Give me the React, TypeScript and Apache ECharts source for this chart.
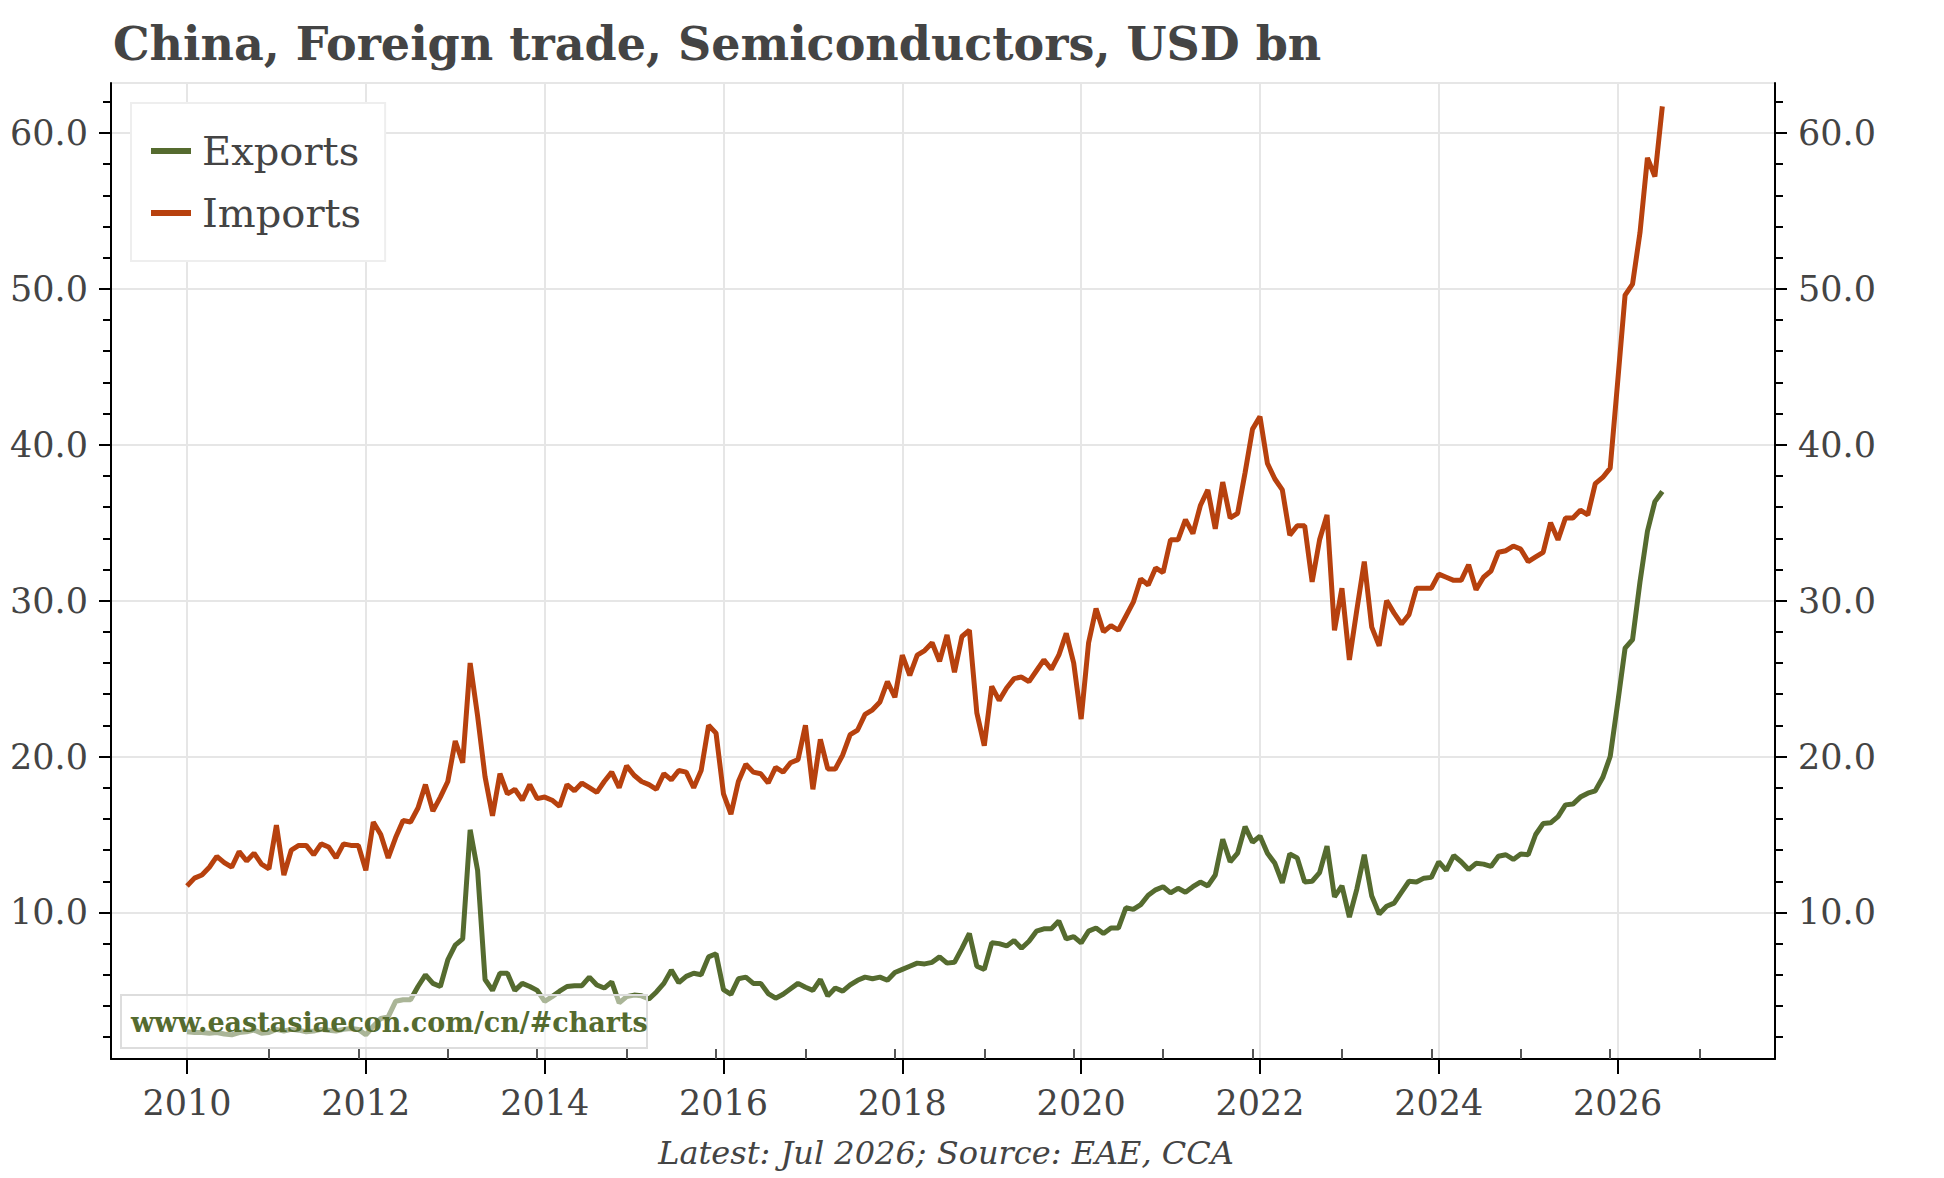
import { useEffect, useRef } from 'react'
import * as echarts from 'echarts'

const TITLE = 'China, Foreign trade, Semiconductors, USD bn'
const FOOTNOTE = 'Latest: Jul 2026; Source: EAE, CCA'
const WATERMARK = 'www.eastasiaecon.com/cn/#charts'

const FONT = "'DejaVu Serif', serif"
const TEXT_COLOR = '#444444'
const GRID_COLOR = '#e6e6e6'
const EXPORTS_COLOR = '#556b2f'
const IMPORTS_COLOR = '#b7410e'

// monthly, Jan 2010 .. Jul 2026
const START_YEAR = 2010

const EXPORTS = [
  2.35, 2.3, 2.3, 2.25, 2.3, 2.2, 2.15, 2.3, 2.35, 2.45, 2.25, 2.3,
  2.5, 2.4, 2.5, 2.45, 2.35, 2.4, 2.5, 2.45, 2.4, 2.5, 2.55, 2.5,
  2.15, 2.7, 3.2, 3.3, 4.3, 4.4, 4.4, 5.25, 6.0, 5.45, 5.25, 6.95,
  7.9, 8.3, 15.3, 12.7, 5.7, 5.0, 6.1, 6.1, 5.0, 5.45, 5.25, 5.0,
  4.3, 4.6, 4.95, 5.25, 5.3, 5.3, 5.85, 5.35, 5.15, 5.55, 4.2, 4.6,
  4.7, 4.65, 4.45, 4.9, 5.45, 6.3, 5.5, 5.9, 6.1, 6.0, 7.15, 7.35,
  5.05, 4.75, 5.75, 5.85, 5.45, 5.45, 4.8, 4.5, 4.75, 5.1, 5.45, 5.2,
  5.0, 5.7, 4.65, 5.15, 4.95, 5.35, 5.65, 5.85, 5.75, 5.85, 5.65, 6.15,
  6.35, 6.55, 6.75, 6.7, 6.8, 7.15, 6.75, 6.8, 7.7, 8.65, 6.55, 6.35,
  8.05, 8.0, 7.85, 8.2, 7.7, 8.15, 8.8, 8.95, 8.95, 9.45, 8.3, 8.45,
  8.05, 8.8, 9.0, 8.65, 9.0, 9.0, 10.3, 10.2, 10.5, 11.1, 11.45, 11.65,
  11.25, 11.55, 11.3, 11.65, 11.95, 11.7, 12.4, 14.7, 13.25, 13.8, 15.5, 14.5,
  14.9, 13.8, 13.15, 11.9, 13.75, 13.5, 11.95, 12.0, 12.55, 14.25, 11.0, 11.7,
  9.7, 11.5, 13.7, 11.05, 9.9, 10.4, 10.6, 11.3, 12.0, 11.95, 12.2, 12.25,
  13.25, 12.7, 13.65, 13.25, 12.75, 13.15, 13.1, 12.95, 13.6, 13.7, 13.4, 13.75,
  13.7, 15.0, 15.7, 15.75, 16.15, 16.9, 16.95, 17.4, 17.65, 17.8, 18.65, 20.0,
  23.4, 26.95, 27.5, 31.2, 34.45, 36.35, 37.0,
]

const IMPORTS = [
  11.7, 12.2, 12.4, 12.9, 13.6, 13.2, 12.9, 13.9, 13.3, 13.8, 13.1, 12.8,
  15.6, 12.4, 14.0, 14.3, 14.3, 13.7, 14.4, 14.2, 13.5, 14.4, 14.3, 14.3,
  12.7, 15.8, 15.0, 13.5, 14.8, 15.9, 15.8, 16.7, 18.2, 16.5, 17.4, 18.4,
  21.0, 19.6, 26.0, 22.6, 18.7, 16.2, 18.9, 17.6, 17.9, 17.2, 18.2, 17.3,
  17.4, 17.2, 16.8, 18.2, 17.8, 18.3, 18.0, 17.7, 18.4, 19.0, 18.0, 19.4,
  18.8, 18.4, 18.2, 17.9, 18.9, 18.5, 19.1, 19.0, 18.0, 19.1, 22.0, 21.5,
  17.6, 16.3, 18.4, 19.5, 19.0, 18.9, 18.3, 19.3, 19.0, 19.6, 19.8, 22.0,
  17.9, 21.1, 19.2, 19.2, 20.1, 21.4, 21.7, 22.7, 23.0, 23.5, 24.8, 23.8,
  26.5, 25.2, 26.5, 26.8, 27.3, 26.1, 27.8, 25.4, 27.7, 28.1, 22.8, 20.7,
  24.5, 23.6, 24.4, 25.0, 25.1, 24.8, 25.5, 26.2, 25.6, 26.5, 27.9, 26.0,
  22.4, 27.3, 29.5, 28.0, 28.4, 28.1, 29.0, 29.9, 31.4, 31.0, 32.1, 31.8,
  33.9, 33.9, 35.2, 34.3, 36.1, 37.1, 34.6, 37.6, 35.3, 35.6, 38.2, 41.0,
  41.8, 38.8, 37.8, 37.1, 34.2, 34.8, 34.8, 31.2, 33.9, 35.5, 28.1, 30.8,
  26.2, 29.4, 32.5, 28.3, 27.1, 30.0, 29.2, 28.5, 29.1, 30.8, 30.8, 30.8,
  31.7, 31.5, 31.3, 31.3, 32.3, 30.7, 31.5, 31.9, 33.1, 33.2, 33.5, 33.3,
  32.5, 32.8, 33.1, 35.0, 33.9, 35.3, 35.3, 35.8, 35.5, 37.5, 37.9, 38.5,
  44.0, 49.6, 50.3, 53.6, 58.4, 57.2, 61.7,
]

const YEAR_LABELS = [2010, 2012, 2014, 2016, 2018, 2020, 2022, 2024, 2026]
// small ticks sit on December of every year
const MINOR_TICK_YEARS = [
  2010, 2011, 2012, 2013, 2014, 2015, 2016, 2017, 2018,
  2019, 2020, 2021, 2022, 2023, 2024, 2025, 2026,
]
const Y_LABELS = [10, 20, 30, 40, 50, 60]
const Y_MINOR = [2, 4, 6, 8, 12, 14, 16, 18, 22, 24, 26, 28, 32, 34, 36, 38, 42, 44, 46, 48, 52, 54, 56, 58, 62]

const X_MIN = 2009.15
const X_MAX = 2027.76
const Y_MIN = 0.6
const Y_MAX = 63.2

const toPoints = (values: number[]) => values.map((v, i) => [START_YEAR + i / 12, v])

function buildOption() {
  const minorX = MINOR_TICK_YEARS.map((y) => y + 11 / 12)

  const majorY = (position: 'left' | 'right', withGrid: boolean) => ({
    type: 'value',
    position,
    min: Y_MIN,
    max: Y_MAX,
    axisLine: { show: true, onZero: false, lineStyle: { color: '#000', width: 2 } },
    axisTick: { show: true, customValues: Y_LABELS, length: 12, lineStyle: { color: '#000', width: 2 } },
    axisLabel: {
      customValues: Y_LABELS,
      formatter: (v: number) => v.toFixed(1),
      margin: 23,
      fontFamily: FONT,
      fontSize: 35,
      color: TEXT_COLOR,
    },
    splitLine: { show: withGrid, lineStyle: { color: GRID_COLOR, width: 2 } },
  })

  const minorY = (position: 'left' | 'right') => ({
    type: 'value',
    position,
    min: Y_MIN,
    max: Y_MAX,
    axisLine: { show: false },
    axisTick: { show: true, customValues: Y_MINOR, length: 8, lineStyle: { color: '#000', width: 2 } },
    axisLabel: { show: false },
    splitLine: { show: false },
  })

  return {
    animation: false,
    backgroundColor: '#ffffff',
    title: {
      text: TITLE,
      left: 108,
      top: 16,
      textStyle: { fontFamily: FONT, fontWeight: 'bold', fontSize: 46, color: TEXT_COLOR },
    },
    legend: {
      data: ['Exports', 'Imports'],
      orient: 'vertical',
      left: 131,
      top: 103,
      padding: [28, 24, 28, 20],
      itemGap: 22,
      itemWidth: 40,
      itemHeight: 6,
      icon: 'rect',
      itemStyle: { borderWidth: 0 },
      backgroundColor: '#ffffff',
      borderColor: '#eeeeee',
      borderWidth: 2,
      textStyle: { fontFamily: FONT, fontSize: 40, color: TEXT_COLOR, padding: [0, 0, 0, 6] },
    },
    grid: {
      left: 111,
      right: 169,
      top: 83,
      bottom: 119,
      show: true,
      borderColor: GRID_COLOR,
      borderWidth: 2,
    },
    xAxis: [
      {
        type: 'value',
        position: 'bottom',
        min: X_MIN,
        max: X_MAX,
        axisLine: { show: true, onZero: false, lineStyle: { color: '#000', width: 2 } },
        axisTick: { show: true, customValues: YEAR_LABELS, length: 15, lineStyle: { color: '#000', width: 2 } },
        axisLabel: {
          customValues: YEAR_LABELS,
          formatter: (v: number) => String(Math.round(v)),
          margin: 26,
          fontFamily: FONT,
          fontSize: 35,
          color: TEXT_COLOR,
        },
        splitLine: { show: true, lineStyle: { color: GRID_COLOR, width: 2 } },
      },
      {
        type: 'value',
        position: 'bottom',
        min: X_MIN,
        max: X_MAX,
        axisLine: { show: false, onZero: false },
        axisTick: { show: true, inside: true, customValues: minorX, length: 10, lineStyle: { color: '#555', width: 2 } },
        axisLabel: { show: false },
        splitLine: { show: false },
      },
    ],
    yAxis: [majorY('left', true), majorY('right', false), minorY('left'), minorY('right')],
    series: [
      {
        name: 'Exports',
        type: 'line',
        showSymbol: false,
        data: toPoints(EXPORTS),
        color: EXPORTS_COLOR,
        lineStyle: { color: EXPORTS_COLOR, width: 5 },
      },
      {
        name: 'Imports',
        type: 'line',
        showSymbol: false,
        data: toPoints(IMPORTS),
        color: IMPORTS_COLOR,
        lineStyle: { color: IMPORTS_COLOR, width: 5 },
      },
    ],
    graphic: [
      {
        type: 'rect',
        z: 100,
        shape: { x: 121, y: 995, width: 526, height: 53 },
        style: { fill: 'rgba(255,255,255,0.5)', stroke: '#dddddd', lineWidth: 2 },
      },
      {
        type: 'text',
        z: 101,
        x: 131,
        y: 1022,
        style: {
          text: WATERMARK,
          fontFamily: FONT,
          fontWeight: 'bold',
          fontSize: 27,
          fill: EXPORTS_COLOR,
          align: 'left',
          verticalAlign: 'middle',
        },
      },
      {
        type: 'text',
        x: 946,
        y: 1153,
        style: {
          text: FOOTNOTE,
          fontFamily: FONT,
          fontStyle: 'italic',
          fontSize: 32,
          fill: TEXT_COLOR,
          align: 'center',
          verticalAlign: 'middle',
        },
      },
    ],
  }
}

export default function App() {
  const ref = useRef<HTMLDivElement>(null)

  useEffect(() => {
    const el = ref.current
    if (!el) return
    const chart = echarts.init(el, undefined, { renderer: 'svg' })
    chart.setOption(buildOption() as any)
    return () => chart.dispose()
  }, [])

  return (
    <div
      ref={ref}
      style={{ position: 'absolute', left: 0, top: 0, width: 1944, height: 1178, background: '#fff' }}
    />
  )
}
